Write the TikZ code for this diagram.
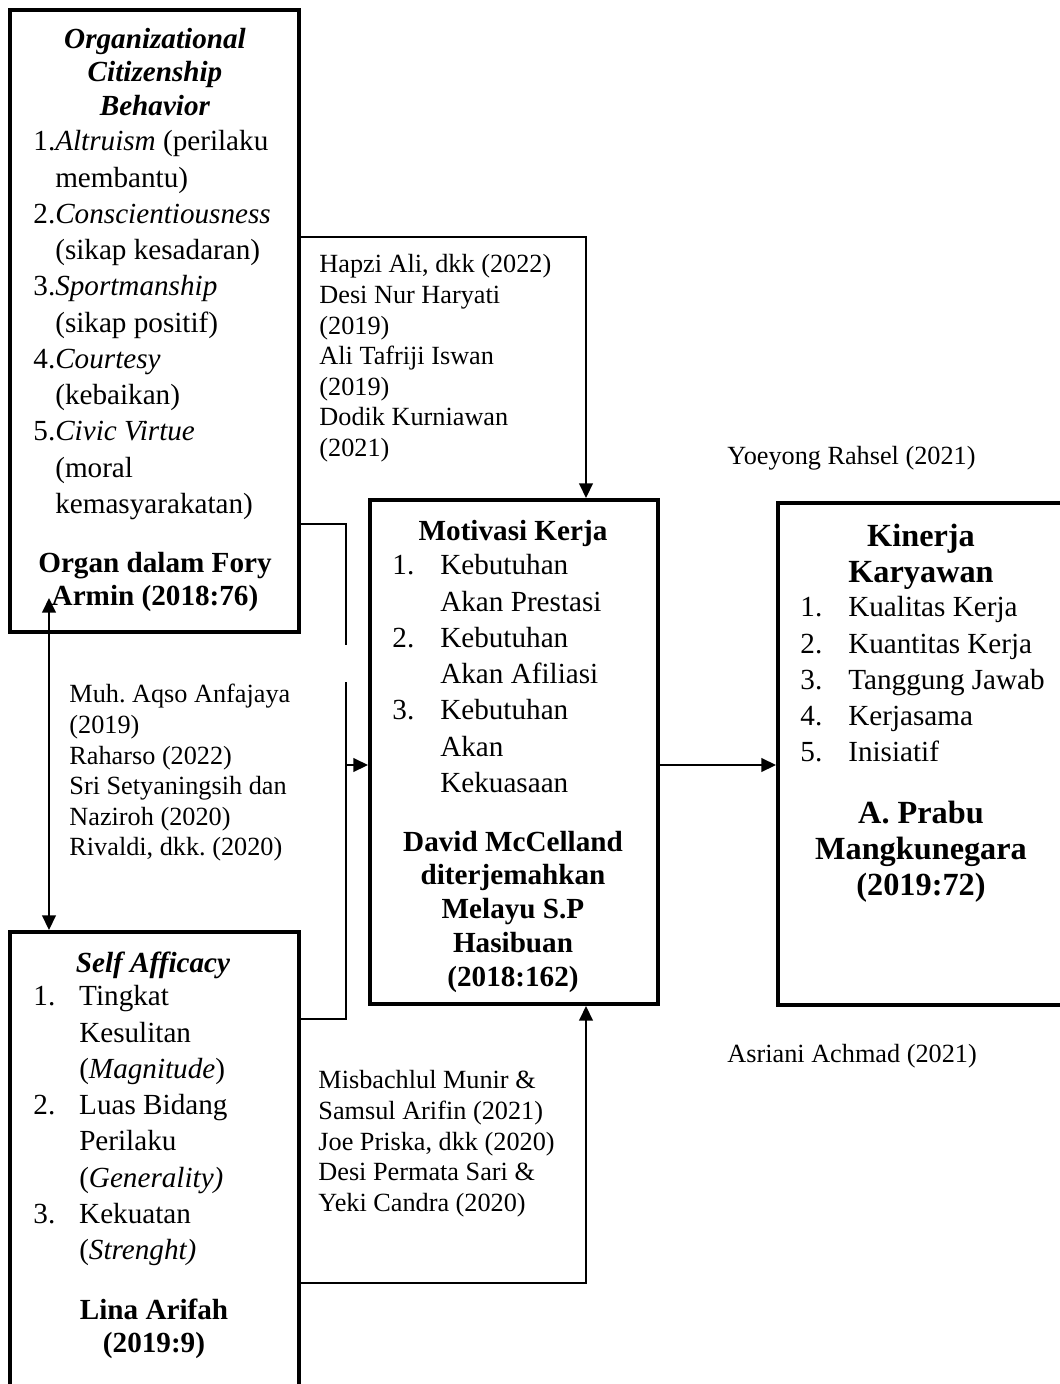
\documentclass[tikz,border=0pt]{standalone}
\usepackage{fontspec}
\setmainfont{Liberation Serif}
\usetikzlibrary{arrows.meta,positioning,fit}
\frenchspacing

\newcommand{\itm}[2]{\makebox[#1][l]{#2}}

\begin{document}
\begin{tikzpicture}[
  x=0.48pt, y=-0.48pt,
  box/.style={draw, line width=1.9pt, inner sep=0pt},
  line/.style={line width=1pt},
  arrow/.style={-{Triangle[length=7pt,width=6.5pt]}, line width=1pt},
  dblarrow/.style={{Triangle[length=7pt,width=6.5pt]}-{Triangle[length=7pt,width=6.5pt]}, line width=1pt},
  body/.style={anchor=north west, inner sep=0pt, align=left, font=\fontsize{14}{17.4}\selectfont},
  head/.style={anchor=north, inner sep=0pt, align=center, font=\fontsize{14}{16.2}\selectfont\bfseries},
  bighead/.style={anchor=north, inner sep=0pt, align=center, font=\fontsize{15.5}{17.3}\selectfont\bfseries},
  cite/.style={anchor=north west, inner sep=0pt, align=left, font=\fontsize{12.6}{14.7}\selectfont},
]
  \useasboundingbox (0,0) rectangle (1060,1384);

  % Boxes
  \node[box, fit={(10,10) (299,632)}] (ocb) {};
  \node[box, fit={(10,932) (299,1400)}] (selfe) {};
  \node[box, fit={(370,500) (658,1004)}] (mot) {};
  \node[box, fit={(778,503) (1080,1005)}] (kin) {};

  % Organizational Citizenship Behavior
  \node[head] (ocbhead) at (155,24) {\strut\textit{Organizational}\\\textit{Citizenship}\\\textit{Behavior}};
  \node[body] (ocblist) at (33,125) {\strut 1.\textit{Altruism} (perilaku\\
    \phantom{1.}membantu)\\
    2.\textit{Conscientiousness}\\
    \phantom{2.}(sikap kesadaran)\\
    3.\textit{Sportmanship}\\
    \phantom{3.}(sikap positif)\\
    4.\textit{Courtesy}\\
    \phantom{4.}(kebaikan)\\
    5.\textit{Civic Virtue}\\
    \phantom{5.}(moral\\
    \phantom{5.}kemasyarakatan)};
  \node[head] (ocbsrc) at (155,548) {\strut Organ dalam Fory\\Armin (2018:76)};

  % Self Afficacy
  \node[head] (selfhead) at (153,948) {\strut\textit{Self Afficacy}};
  \node[body] (selflist) at (33,980) {\strut\itm{22pt}{1.}Tingkat\\
    \itm{22pt}{}Kesulitan\\
    \itm{22pt}{}(\textit{Magnitude})\\
    \itm{22pt}{2.}Luas Bidang\\
    \itm{22pt}{}Perilaku\\
    \itm{22pt}{}(\textit{Generality)}\\
    \itm{22pt}{3.}Kekuatan\\
    \itm{22pt}{}(\textit{Strenght)}};
  \node[head] (selfsrc) at (154,1295) {\strut Lina Arifah\\(2019:9)};

  % Motivasi Kerja
  \node[head] (mothead) at (513,516) {\strut Motivasi Kerja};
  \node[body] (motlist) at (392,549) {\strut\itm{23pt}{1.}Kebutuhan\\
    \itm{23pt}{}Akan Prestasi\\
    \itm{23pt}{2.}Kebutuhan\\
    \itm{23pt}{}Akan Afiliasi\\
    \itm{23pt}{3.}Kebutuhan\\
    \itm{23pt}{}Akan\\
    \itm{23pt}{}Kekuasaan};
  \node[head] (motsrc) at (513,827) {\strut David McCelland\\diterjemahkan\\Melayu S.P\\Hasibuan\\(2018:162)};

  % Kinerja Karyawan
  \node[bighead] (kinhead) at (921,521) {\strut Kinerja\\Karyawan};
  \node[body] (kinlist) at (800,591) {\strut\itm{23pt}{1.}Kualitas Kerja\\
    \itm{23pt}{2.}Kuantitas Kerja\\
    \itm{23pt}{3.}Tanggung Jawab\\
    \itm{23pt}{4.}Kerjasama\\
    \itm{23pt}{5.}Inisiatif};
  \node[bighead] (kinsrc) at (921,798) {\strut A. Prabu\\Mangkunegara\\(2019:72)};

  % Citations
  \node[cite] (citetop) at (319,251) {\strut Hapzi Ali, dkk (2022)\\Desi Nur Haryati\\(2019)\\Ali Tafriji Iswan\\(2019)\\Dodik Kurniawan\\(2021)};
  \node[cite] (citeright) at (727,443) {\strut Yoeyong Rahsel (2021)};
  \node[cite] (citeleft) at (69,681) {\strut Muh. Aqso Anfajaya\\(2019)\\Raharso (2022)\\Sri Setyaningsih dan\\Naziroh (2020)\\Rivaldi, dkk. (2020)};
  \node[cite] (citebottom) at (318,1067) {\strut Misbachlul Munir \&\\Samsul Arifin (2021)\\Joe Priska, dkk (2020)\\Desi Permata Sari \&\\Yeki Candra (2020)};
  \node[cite] (citeright2) at (727,1041) {\strut Asriani Achmad (2021)};

  % Bend points
  \coordinate (topbend) at (586,237);
  \coordinate (ocbbend) at (346,524);
  \coordinate (gaptop) at (346,645);
  \coordinate (gapbot) at (346,682);
  \coordinate (selfbend) at (346,1019);
  \coordinate (join) at (346,765);
  \coordinate (botbend) at (586,1283);
  \coordinate (ocbtip) at (49,598);

  % Connectors
  \draw[arrow] (ocb.east |- topbend) -- (topbend) -- (topbend |- mot.north);
  \draw[line] (ocb.east |- ocbbend) -- (ocbbend) -- (gaptop);
  \draw[line] (gapbot) -- (selfbend) -- (selfe.east |- selfbend);
  \draw[arrow] (join) -- (mot.west |- join);
  \draw[arrow] (selfe.east |- botbend) -- (botbend) -- (botbend |- mot.south);
  \draw[arrow] (mot.east |- join) -- (kin.west |- join);
  \draw[dblarrow] (selfe.north -| ocbtip) -- (ocbtip);
\end{tikzpicture}
\end{document}
